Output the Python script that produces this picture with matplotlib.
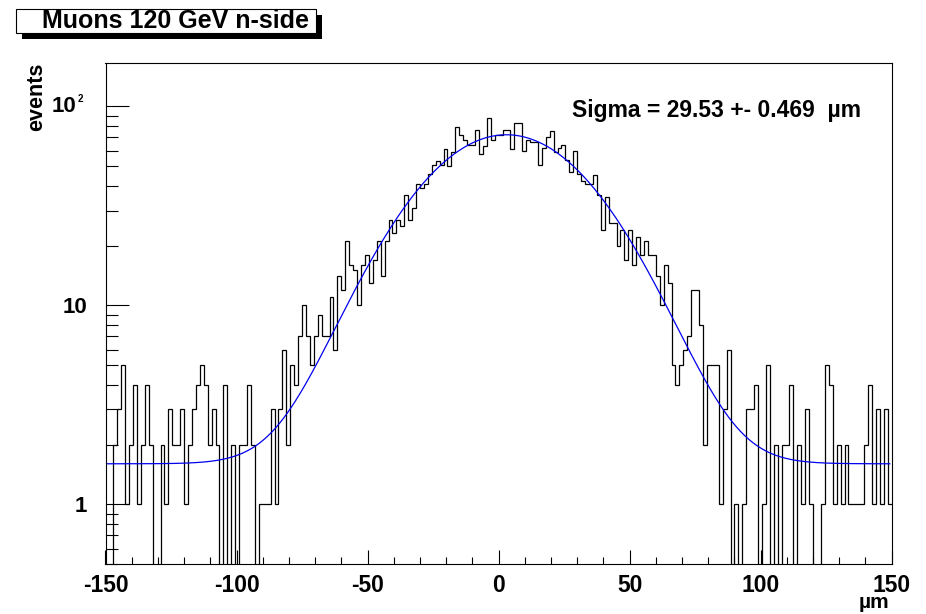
import numpy as np
import matplotlib
matplotlib.use("Agg")
import matplotlib.pyplot as plt
from matplotlib.patches import Rectangle
from matplotlib.ticker import MultipleLocator, LogLocator, NullFormatter, FixedLocator

plt.rcParams['font.family'] = ['Liberation Sans', 'DejaVu Sans']
plt.rcParams['font.weight'] = 'bold'

# 200 bins of 1.5 um from -150 to 150
bin_lo = -150.0
bin_hi = 150.0
counts = [
    0, 0, 2, 3, 5, 1, 2, 4, 1, 2,
    4, 2, 0, 0, 2, 1, 3, 2, 2, 3,
    1, 2, 3, 4, 5, 4, 2, 3, 2, 0,
    4, 0, 2, 0, 2, 2, 4, 2, 0, 1,
    1, 1, 3, 1, 3, 6, 2, 5, 4, 7,
    10, 7, 5, 7, 9, 7, 7, 11, 6, 14,
    12, 21, 16, 15, 10, 16, 18, 13, 17, 21,
    14, 21, 27, 23, 27, 25, 36, 27, 31, 41,
    39, 41, 46, 51, 53, 51, 61, 50, 59, 79,
    72, 68, 64, 64, 76, 58, 63, 88, 68, 72,
    72, 76, 76, 61, 83, 83, 60, 68, 66, 66,
    51, 62, 70, 75, 59, 62, 64, 54, 47, 60,
    46, 42, 41, 41, 45, 36, 24, 35, 26, 26,
    20, 24, 17, 24, 16, 22, 18, 21, 18, 18,
    14, 10, 16, 13, 5, 4, 5, 6, 7, 12,
    12, 8, 2, 5, 5, 5, 1, 3, 6, 0,
    1, 0, 1, 3, 3, 4, 0, 1, 5, 0,
    2, 0, 2, 2, 4, 0, 2, 1, 3, 1,
    0, 0, 1, 5, 4, 1, 2, 1, 2, 1,
    1, 1, 1, 2, 4, 1, 3, 1, 3, 1,
]

# gaussian + constant fit, parameters
fit_const = 1.6
fit_amp = 70.5
fit_mean = 3.0
fit_sigma = 29.53
fit_sigma_err = 0.469

edges = np.linspace(bin_lo, bin_hi, len(counts) + 1)
centers = 0.5 * (edges[:-1] + edges[1:])

W, H = 926, 614
fig = plt.figure(figsize=(W / 100, H / 100), dpi=100)
fig.patch.set_facecolor('white')

def fx(px):
    return px / W

def fy(py):
    return 1 - py / H

left, right, top, bottom = 105.5, 891.7, 62.7, 564.3
ax = fig.add_axes([fx(left), fy(bottom), fx(right - left), (bottom - top) / H])

ax.stairs(counts, edges, baseline=None, color='black', lw=0.9)
xf = np.linspace(centers[0], centers[-1], 600)
yf = fit_const + fit_amp * np.exp(-0.5 * ((xf - fit_mean) / fit_sigma) ** 2)
ax.plot(xf, yf, color='#0000ee', lw=0.9)

ax.set_yscale('log')
ax.set_xlim(bin_lo, bin_hi)
ax.set_ylim(0.5, 166)

for s in ax.spines.values():
    s.set_linewidth(0.8)
    s.set_color('black')

ax.xaxis.set_major_locator(MultipleLocator(50))
ax.xaxis.set_minor_locator(MultipleLocator(10))
ax.yaxis.set_major_locator(FixedLocator([1, 10, 100]))
ax.yaxis.set_minor_locator(LogLocator(base=10, subs=np.arange(2, 10)))
ax.yaxis.set_minor_formatter(NullFormatter())
ax.tick_params(axis='x', which='major', direction='in', length=10, width=0.8,
               labelsize=16.5, pad=7, top=False)
ax.tick_params(axis='x', which='minor', direction='in', length=5, width=0.8, top=False)
ax.tick_params(axis='y', which='major', direction='in', length=16.5, width=0.8,
               labelsize=16, pad=13, right=False)
ax.tick_params(axis='y', which='minor', direction='in', length=8.5, width=0.8, right=False)
ax.set_xticks([-150, -100, -50, 0, 50, 100, 150])
ax.set_xticklabels(['-150', '-100', '-50', '0', '50', '100', '150'], fontweight='bold')
ax.set_yticklabels(['1', '10', ''], fontweight='bold')

# 10^2 label drawn by hand, ROOT style
fig.text(fx(76), fy(106.7), '10', ha='right', va='center', fontsize=16, fontweight='bold')
fig.text(fx(78), fy(98.5), '2', ha='left', va='center', fontsize=7, fontweight='bold')

fig.text(fx(36.5), fy(63), 'events', rotation=90, ha='center', va='top',
         fontsize=15.5, fontweight='bold')
fig.text(fx(889), fy(603), '\u00b5m', ha='right', va='center', fontsize=15, fontweight='bold')

fig.text(fx(572), fy(111), 'Sigma = %.2f +- %.3f  \u00b5m' % (fit_sigma, fit_sigma_err),
         ha='left', va='center', fontsize=16.5, fontweight='bold')

# title box with shadow
fig.patches.append(Rectangle((fx(22), fy(39.3)), fx(321.7 - 22), (39.3 - 15) / H,
                             transform=fig.transFigure, facecolor='black', edgecolor='none'))
fig.patches.append(Rectangle((fx(16), fy(33.3)), fx(316 - 16), (33.3 - 9.3) / H,
                             transform=fig.transFigure, facecolor='white', edgecolor='black', lw=0.8))
fig.text(fx(176), fy(21.5), 'Muons 120 GeV n-side', ha='center', va='center',
         fontsize=18, fontweight='bold')

fig.savefig('out.png', dpi=100, facecolor='white')
